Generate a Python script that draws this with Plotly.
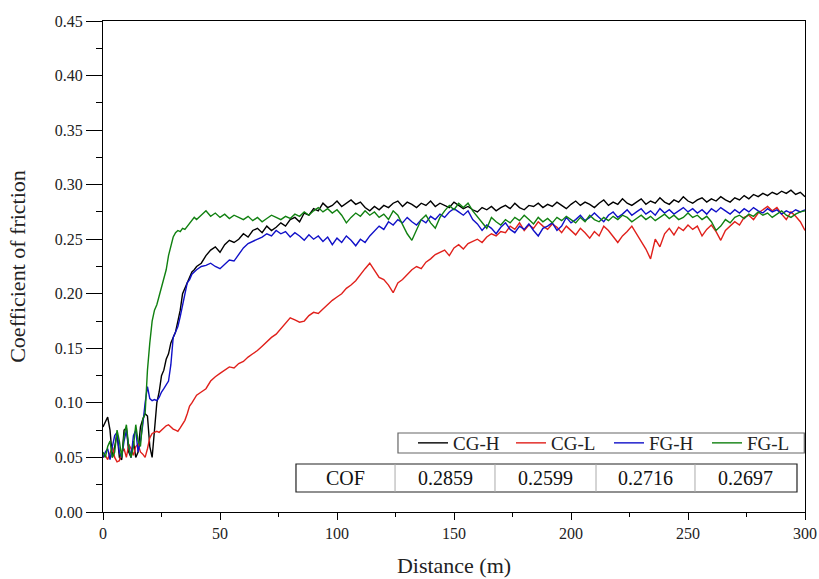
import plotly.graph_objects as go

# ---------------- data ----------------
x_early = list(range(0, 41))          # 0..40 m, 1 m step
x_late = list(range(42, 301, 2))      # 42..300 m, 2 m step

cgh_early = [0.078, 0.082, 0.087, 0.075, 0.050, 0.060, 0.072, 0.050, 0.048, 0.075,
             0.077, 0.055, 0.050, 0.065, 0.050, 0.055, 0.078, 0.085, 0.090, 0.088,
             0.060, 0.050, 0.075, 0.100, 0.110, 0.125, 0.130, 0.140, 0.145, 0.155,
             0.160, 0.165, 0.175, 0.185, 0.200, 0.205, 0.210, 0.215, 0.220, 0.222,
             0.225]
cgh_late = [0.228, 0.235, 0.240, 0.243, 0.238, 0.245, 0.249, 0.247, 0.250, 0.255,
            0.252, 0.258, 0.260, 0.256, 0.262, 0.258, 0.261, 0.265, 0.262, 0.268,
            0.270, 0.266, 0.274, 0.272, 0.278, 0.276, 0.283, 0.279, 0.281, 0.285,
            0.280, 0.283, 0.286, 0.282, 0.284, 0.279, 0.276, 0.280, 0.277, 0.281,
            0.279, 0.283, 0.285, 0.280, 0.284, 0.282, 0.279, 0.283, 0.281, 0.285,
            0.280, 0.283, 0.281, 0.279, 0.284, 0.281, 0.278, 0.280, 0.277, 0.275,
            0.279, 0.277, 0.280, 0.276, 0.279, 0.281, 0.278, 0.283, 0.279, 0.277,
            0.281, 0.280, 0.283, 0.279, 0.282, 0.280, 0.284, 0.281, 0.278, 0.282,
            0.285, 0.281, 0.284, 0.282, 0.279, 0.283, 0.286, 0.281, 0.284, 0.282,
            0.287, 0.283, 0.281, 0.284, 0.287, 0.282, 0.285, 0.283, 0.288, 0.284,
            0.282, 0.286, 0.284, 0.289, 0.285, 0.283, 0.286, 0.288, 0.284, 0.287,
            0.285, 0.289, 0.286, 0.284, 0.288, 0.286, 0.290, 0.287, 0.291, 0.289,
            0.292, 0.290, 0.293, 0.291, 0.294, 0.292, 0.295, 0.291, 0.293, 0.289]

cgl_early = [0.050, 0.052, 0.048, 0.055, 0.060, 0.050, 0.046, 0.047, 0.055, 0.058,
             0.050, 0.062, 0.058, 0.052, 0.060, 0.062, 0.055, 0.053, 0.050, 0.058,
             0.068, 0.072, 0.073, 0.074, 0.073, 0.075, 0.077, 0.079, 0.080, 0.078,
             0.076, 0.075, 0.074, 0.077, 0.080, 0.084, 0.090, 0.097, 0.100, 0.104,
             0.107]
cgl_late = [0.110, 0.113, 0.120, 0.124, 0.127, 0.130, 0.133, 0.132, 0.136, 0.138,
            0.142, 0.145, 0.148, 0.152, 0.156, 0.160, 0.163, 0.168, 0.174, 0.178,
            0.176, 0.174, 0.175, 0.180, 0.183, 0.182, 0.186, 0.190, 0.194, 0.197,
            0.200, 0.205, 0.208, 0.212, 0.218, 0.223, 0.228, 0.222, 0.215, 0.213,
            0.208, 0.201, 0.210, 0.213, 0.218, 0.222, 0.225, 0.223, 0.229, 0.232,
            0.236, 0.238, 0.240, 0.235, 0.242, 0.245, 0.241, 0.246, 0.248, 0.250,
            0.247, 0.252, 0.255, 0.253, 0.257, 0.256, 0.262, 0.259, 0.265, 0.258,
            0.263, 0.260, 0.266, 0.262, 0.259, 0.264, 0.261, 0.256, 0.262, 0.258,
            0.254, 0.260, 0.256, 0.251, 0.257, 0.253, 0.262, 0.258, 0.252, 0.247,
            0.253, 0.257, 0.262, 0.255, 0.248, 0.241, 0.232, 0.250, 0.243, 0.255,
            0.260, 0.254, 0.261, 0.258, 0.263, 0.259, 0.262, 0.253, 0.259, 0.263,
            0.257, 0.249, 0.258, 0.262, 0.266, 0.263, 0.270, 0.272, 0.268, 0.274,
            0.277, 0.280, 0.276, 0.279, 0.273, 0.268, 0.275, 0.271, 0.266, 0.258]

fgh_early = [0.050, 0.055, 0.058, 0.048, 0.060, 0.070, 0.073, 0.055, 0.050, 0.065,
             0.075, 0.060, 0.050, 0.070, 0.075, 0.055, 0.065, 0.080, 0.100, 0.115,
             0.104, 0.102, 0.103, 0.102, 0.105, 0.110, 0.113, 0.116, 0.120, 0.135,
             0.160, 0.165, 0.170, 0.179, 0.190, 0.200, 0.210, 0.213, 0.218, 0.220,
             0.222]
fgh_late = [0.225, 0.226, 0.228, 0.225, 0.223, 0.227, 0.231, 0.230, 0.236, 0.242,
            0.246, 0.248, 0.250, 0.252, 0.255, 0.253, 0.258, 0.255, 0.257, 0.252,
            0.256, 0.253, 0.249, 0.254, 0.250, 0.253, 0.248, 0.252, 0.245, 0.251,
            0.247, 0.253, 0.249, 0.244, 0.250, 0.247, 0.253, 0.258, 0.262, 0.259,
            0.266, 0.263, 0.268, 0.265, 0.270, 0.266, 0.263, 0.268, 0.265, 0.271,
            0.268, 0.273, 0.270, 0.275, 0.278, 0.275, 0.272, 0.276, 0.268, 0.264,
            0.258, 0.263, 0.260, 0.255, 0.261, 0.265, 0.259, 0.256, 0.262, 0.259,
            0.264, 0.258, 0.253, 0.260, 0.262, 0.265, 0.258, 0.262, 0.270, 0.265,
            0.268, 0.272, 0.267, 0.270, 0.274, 0.270, 0.266, 0.272, 0.275, 0.270,
            0.273, 0.277, 0.272, 0.275, 0.278, 0.273, 0.276, 0.272, 0.278, 0.274,
            0.277, 0.273, 0.276, 0.279, 0.275, 0.278, 0.274, 0.277, 0.273, 0.278,
            0.275, 0.279, 0.276, 0.273, 0.277, 0.274, 0.278, 0.275, 0.279, 0.276,
            0.274, 0.278, 0.275, 0.277, 0.273, 0.276, 0.274, 0.277, 0.275, 0.277]

fgl_early = [0.055, 0.050, 0.060, 0.065, 0.050, 0.055, 0.075, 0.065, 0.050, 0.070,
             0.080, 0.060, 0.050, 0.060, 0.080, 0.065, 0.060, 0.085, 0.090, 0.130,
             0.155, 0.175, 0.185, 0.190, 0.198, 0.206, 0.214, 0.222, 0.235, 0.245,
             0.252, 0.256, 0.258, 0.257, 0.260, 0.259, 0.262, 0.265, 0.267, 0.270,
             0.268]
fgl_late = [0.272, 0.276, 0.271, 0.274, 0.270, 0.273, 0.269, 0.272, 0.270, 0.268,
            0.271, 0.267, 0.270, 0.266, 0.269, 0.272, 0.270, 0.268, 0.271, 0.269,
            0.273, 0.271, 0.275, 0.272, 0.276, 0.279, 0.275, 0.278, 0.274, 0.277,
            0.272, 0.265, 0.270, 0.274, 0.271, 0.276, 0.272, 0.275, 0.270, 0.273,
            0.268, 0.276, 0.272, 0.263, 0.255, 0.249, 0.258, 0.268, 0.272, 0.265,
            0.260, 0.270, 0.276, 0.281, 0.277, 0.283, 0.279, 0.283, 0.276, 0.271,
            0.266, 0.260, 0.270, 0.266, 0.263, 0.268, 0.265, 0.270, 0.267, 0.272,
            0.268, 0.264, 0.270, 0.266, 0.269, 0.265, 0.270, 0.267, 0.271, 0.268,
            0.265, 0.270, 0.266, 0.272, 0.268, 0.266, 0.270, 0.267, 0.271, 0.268,
            0.272, 0.270, 0.266, 0.269, 0.272, 0.268, 0.271, 0.267, 0.270, 0.273,
            0.269, 0.272, 0.268, 0.270, 0.274, 0.270, 0.272, 0.268, 0.271, 0.266,
            0.258, 0.262, 0.268, 0.265, 0.270, 0.272, 0.269, 0.273, 0.271, 0.275,
            0.272, 0.274, 0.270, 0.273, 0.276, 0.272, 0.270, 0.273, 0.275, 0.276]

series_names = ["CG-H", "CG-L", "FG-H", "FG-L"]
series_colors = ["#000000", "#e0201b", "#1010c8", "#108010"]
cof_label = "COF"
cof_values = [0.2859, 0.2599, 0.2716, 0.2697]

x_all = x_early + x_late
series_y = [cgh_early + cgh_late, cgl_early + cgl_late,
            fgh_early + fgh_late, fgl_early + fgl_late]

FONT = "Liberation Serif"

fig = go.Figure()
for name, color, ys in zip(series_names, series_colors, series_y):
    fig.add_trace(go.Scatter(x=x_all, y=ys, mode="lines", name=name,
                             line=dict(color=color, width=1.4)))

# ---------------- legend frame + COF table (shapes + text) ----------------
shapes = [dict(type="rect", xref="paper", yref="paper", x0=0.4202, x1=0.999,
               y0=0.1202, y1=0.1609, line=dict(color="#666666", width=1.2),
               fillcolor="white", layer="above")]
tx0, tx1 = 0.2749, 0.9886
ty0, ty1 = 0.0407, 0.0978
col_edges = [0.2749, 0.4160, 0.5584, 0.7023, 0.8433, 0.9886]
shapes.append(dict(type="rect", xref="paper", yref="paper", x0=tx0, x1=tx1, y0=ty0, y1=ty1,
                   line=dict(color="#222222", width=1.2), fillcolor="white", layer="above"))
for e in col_edges[1:-1]:
    shapes.append(dict(type="line", xref="paper", yref="paper", x0=e, x1=e, y0=ty0, y1=ty1,
                       line=dict(color="#aaaaaa", width=1), layer="above"))
annotations = []
cells = [cof_label] + [f"{v:.4f}" for v in cof_values]
for i, txt in enumerate(cells):
    annotations.append(dict(xref="paper", yref="paper",
                            x=(col_edges[i] + col_edges[i + 1]) / 2, y=(ty0 + ty1) / 2,
                            text=txt, showarrow=False,
                            font=dict(family=FONT, size=20, color="#111111"),
                            xanchor="center", yanchor="middle"))

fig.update_layout(
    width=819, height=579,
    margin=dict(l=103, r=14, t=21, b=67),
    paper_bgcolor="white", plot_bgcolor="white",
    font=dict(family=FONT, size=16, color="#222222"),
    showlegend=True,
    legend=dict(orientation="h", x=1.0, xanchor="right", y=0.1405, yanchor="middle",
                borderwidth=0, bgcolor="rgba(0,0,0,0)",
                font=dict(family=FONT, size=19, color="#222222"),
                tracegroupgap=0, entrywidth=53, entrywidthmode="pixels"),
    shapes=shapes, annotations=annotations,
)
fig.update_xaxes(range=[0, 300], tickvals=[0, 50, 100, 150, 200, 250, 300],
                 ticks="outside", ticklen=7, tickwidth=1.2, tickcolor="black",
                 showline=True, linecolor="black", linewidth=1.3, mirror=True,
                 showgrid=False, zeroline=False, automargin=False,
                 minor=dict(tickvals=[25, 75, 125, 175, 225, 275], ticks="outside",
                            ticklen=4, tickcolor="black", tickwidth=1.2),
                 title=dict(text="Distance (m)", font=dict(family=FONT, size=22), standoff=16),
                 tickfont=dict(family=FONT, size=16))
fig.update_yaxes(range=[0, 0.45], tickvals=[i * 0.05 for i in range(10)],
                 tickformat=".2f",
                 ticks="outside", ticklen=16, tickwidth=1.2, tickcolor="black",
                 showline=True, linecolor="black", linewidth=1.3, mirror=True,
                 showgrid=False, zeroline=False, automargin=False,
                 minor=dict(tickvals=[0.025 + i * 0.05 for i in range(9)], ticks="outside",
                            ticklen=6, tickcolor="black", tickwidth=1.2),
                 title=dict(text="Coefficient of friction", font=dict(family=FONT, size=22),
                            standoff=22),
                 tickfont=dict(family=FONT, size=16))

fig.write_html("out.html", config={"displayModeBar": False},
               post_script="document.body.style.margin='0px';")
